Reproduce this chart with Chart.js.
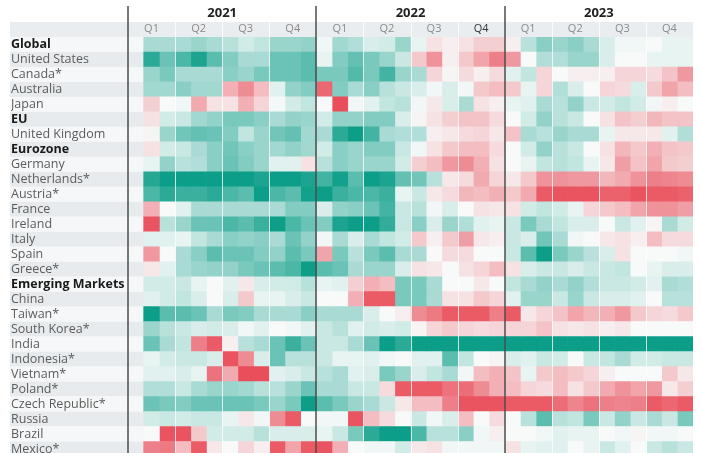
<!DOCTYPE html>
<html>
<head>
<meta charset="utf-8">
<script src="https://cdn.jsdelivr.net/npm/chart.js@4.4.0/dist/chart.umd.min.js"></script>
<style>
  html, body { margin: 0; padding: 0; background: #ffffff; overflow: hidden; }
  #wrap { width: 701px; height: 464px; }
</style>
</head>
<body>
<div id="wrap"><canvas id="heat" width="701" height="464"></canvas></div>
<script>
// Row labels (bold ones are aggregates)
const rows = [
    'Global', 'United States', 'Canada*', 'Australia', 'Japan', 'EU', 'United Kingdom',
    'Eurozone', 'Germany', 'Netherlands*', 'Austria*', 'France', 'Ireland', 'Italy',
    'Spain', 'Greece*', 'Emerging Markets', 'China', 'Taiwan*', 'South Korea*', 'India',
    'Indonesia*', 'Vietnam*', 'Poland*', 'Czech Republic*', 'Russia', 'Brazil', 'Mexico*'
];
const boldRows = ['Global', 'EU', 'Eurozone', 'Emerging Markets'];
const years = ['2021', '2022', '2023'];
const quarters = ['Q1', 'Q2', 'Q3', 'Q4'];

// Monthly readings per row, Jan..Dec (positive = teal, negative = red)
const v2021 = [
    [null, 1, 1, 1, 1.2, 1, 0.8, 0.5, 0.7, 1.2, 1.2, 1.3],
    [null, 2.6, 1.8, 2.2, 2.8, 2.0, 1.5, 1.0, 1.0, 1.8, 1.8, 2.0],
    [null, 1.2, 1.6, 1.0, 1.0, 1.0, 1.4, 1.2, 1.6, 1.8, 1.8, 2.0],
    [null, 1.1, 1.1, 1.4, 1.1, 1.1, -1.2, -1.8, -1.0, 0.3, 1.3, 1.5],
    [null, -0.7, 0, 0.1, -1.3, -0.4, -0.4, -1.2, -0.6, 0.05, 0.5, 0.7],
    [null, -0.4, 0.5, 0.6, 1.1, 1.3, 1.6, 1.6, 1.4, 1.0, 1.3, 1.2],
    [null, -0.1, 1.2, 1.7, 1.9, 1.8, 1.5, 0.7, 1.2, 1.7, 1.9, 1.1],
    [null, -0.4, 0.5, 0.6, 1.0, 1.4, 1.7, 1.4, 1.2, 1.1, 1.3, 1.1],
    [null, 0.2, 1.3, 0.8, 0.9, 1.4, 1.8, 1.5, 1.2, 0.3, 0.3, -0.4],
    [null, 2.7, 3, 3, 3, 3, 3, 3, 2.8, 3, 3, 2.8],
    [null, 2.2, 2.6, 2.4, 2.4, 2.6, 2.2, 2.0, 3.0, 2.2, 2.0, 2.9],
    [null, -1.2, 0, 0.3, 1.0, 1.0, 1.0, 1.0, 1.0, 1.0, 1.5, 1.5],
    [null, -2.7, 0.8, 1.2, 1.8, 1.8, 2.2, 2.0, 2.4, 3.0, 2.2, 1.8],
    [null, 0.3, 0.3, 0.2, 0.7, 1.0, 1.4, 1.3, 1.4, 1.0, 1.8, 1.3],
    [null, -1.6, 0, 1.0, 1.4, 2.0, 1.8, 1.8, 1.5, 1.3, 2.0, 1.6],
    [null, -0.3, 0.3, 1.0, 1.2, 1.3, 1.3, 1.6, 1.8, 2.0, 2.2, 3.0],
    [null, 0.5, 0.5, 0.6, 0.2, 0, 0.3, -0.3, 0.4, 0.5, 0.5, 0.8],
    [null, 0.3, 0.5, 0.7, 0.4, 0, 0.4, -0.8, 0.2, 0.2, 0.4, 0.6],
    [null, 3.0, 2.0, 2.0, 1.8, 1.0, 1.6, 1.5, 1.0, 1.0, 1.0, 1.4],
    [null, 1.2, 0.8, 0.6, 0.4, 0.5, 0.4, 0.1, 0.3, 0, 0.1, 0.3],
    [null, 1.8, 1.0, 0.7, -2.0, -2.6, -0.2, 0.8, 1.0, 1.8, 2.4, 1.8],
    [null, 0.2, 0.5, 0.6, 0.6, 0.4, -2.7, -1.8, 0.4, 1.8, 0.8, 0.8],
    [null, 0.3, 0.3, 0.4, 0.2, -2.2, -1.3, -2.8, -2.8, 0.3, 0.4, 0.6],
    [null, 0.9, 0.9, 0.6, 1.0, 1.2, 1.2, 1.1, 0.8, 0.8, 1.2, 1.8],
    [null, 1.8, 1.6, 1.5, 1.8, 1.8, 1.8, 1.8, 1.6, 1.2, 1.6, 3.0],
    [null, 0.5, 0.6, 0.5, 0.6, 0.6, 0.2, -0.3, 0.1, -1.8, -2.6, 0],
    [null, 0, -2.7, -2.7, -0.8, 0.5, 0.5, 0.5, 0.8, 0.4, 0.4, 0.4],
    [null, -2.0, -2.1, -1.0, -2.6, -0.3, 0, -0.6, -0.2, -2.6, -1.4, -2.6]
];
const v2022 = [
    [0.1, 1.1, 0.9, 0.4, 0.5, 1.2, 0.2, -0.4, -0.2, -0.4, -0.7, -0.7],
    [0.2, 1.5, 1.9, 1.6, 1.2, 0.6, -0.8, -1.7, -0.2, -0.8, -1.4, -2.0],
    [1.6, 1.6, 2.1, 1.6, 2.3, 1.2, 1.0, -0.6, -0.1, -0.5, -0.2, -0.5],
    [-2.4, 1.5, 1.0, 1.4, 0.8, 0.6, 0.4, 0.1, 0.4, 0.1, -0.8, -1.0],
    [0, -2.8, 0.1, 0.3, 0.7, 0.8, 0.1, -0.3, 0.4, 1.0, -0.4, -0.2],
    [0.5, 1.3, 1.3, 1.5, 1.5, 0.4, -0.1, -0.4, -0.7, -0.9, -0.9, -0.5],
    [1.0, 2.6, 3.0, 2.3, 1.0, 0.9, 0.9, -0.2, -0.3, -0.5, -0.6, -0.3],
    [0.5, 1.4, 1.2, 1.5, 1.5, 0.6, 0.1, -0.4, -0.8, -1.0, -1.0, -0.5],
    [0.8, 1.4, 1.2, 1.2, 1.2, 0.5, -0.7, -1.0, -1.6, -1.8, -1.2, -0.4],
    [2.3, 2.9, 2.0, 3.0, 2.8, 1.9, 1.7, 0.8, -0.3, -0.5, -1.3, -0.6],
    [3.0, 2.4, 2.2, 2.2, 2.4, 0.2, 0.6, -0.3, -0.5, -1.1, -1.0, -1.2],
    [0.4, 1.3, 1.4, 1.8, 2.3, 0.6, 0.8, 0.1, 0.4, 0, -0.4, -0.3],
    [1.5, 2.8, 3.0, 3.0, 2.5, 0.6, 1.4, 0.4, 1.2, 0.9, 0.3, 0.2],
    [0.1, 1.0, 0.4, 1.0, 0.7, 0.5, -0.8, -0.2, -0.8, -1.5, -0.3, -0.2],
    [-1.4, 1.6, 0.8, 1.6, 2.0, 1.0, 1.0, 0, -0.5, -0.5, 0, 0],
    [2.0, 1.8, 1.0, 1.2, 1.2, 0.4, -0.4, -0.3, 0, -0.4, -0.6, -1.0],
    [0.2, 0.3, -0.7, -1.2, -1.0, 1.6, 1.6, 1.0, 0, 0, -0.3, 0],
    [0, 0, -1.2, -2.6, -2.6, 1.6, 1.6, 1.0, -0.4, -0.4, -0.8, -0.6],
    [1.0, 1.0, 1.0, 0.4, 0, -0.2, -1.8, -2.1, -2.6, -2.6, -2.6, -2.0],
    [0.6, 0.8, 0.3, 0.5, 0.4, 0.5, -0.1, -0.6, -0.8, -0.6, -0.5, -0.6],
    [0.6, 0.6, 1.0, 1.8, 3.0, 2.6, 3.0, 3.0, 3.0, 3.0, 3.0, 3.0],
    [0.6, 0.2, 0.2, 0.3, 0.1, 0, 0.3, 0.3, 2.0, 0.7, 0, -0.1],
    [0.8, 1.0, 0.3, 0.4, 1.6, 1.2, 0.4, 0.7, 1.0, 0.1, -1.0, -1.2],
    [1.0, 1.0, 0.6, 0.6, -0.5, -2.6, -2.6, -2.6, -2.2, -2.3, -1.8, -1.2],
    [2.0, 1.6, 1.2, 1.0, 0.6, -0.3, -1.0, -1.0, -2.0, -2.7, -2.7, -2.7],
    [0.1, 0.1, -2.7, -1.0, -0.5, 0, 0.6, 0.1, 0.4, -1.0, 0, -0.5],
    [0.2, 0.6, 1.6, 2.6, 3.0, 3.0, 2.2, 0.8, 0.8, 1.4, 0.1, -0.2],
    [-2.7, -1.2, 0, 0.1, 0.1, 0.5, -0.3, -0.4, 0.1, 0.1, 0.1, 0.1]
];
const v2023 = [
    [-0.2, 0.8, 1.4, 1.2, 1.4, 1.0, 0.4, 0.1, 0.1, 0, 0.2, 0.2],
    [-1.6, 0, 0.9, 0.9, 1.2, 1.2, 0.4, 0, 0, 0.2, 0.2, 0.2],
    [0.3, 0.7, -0.6, 0, -0.2, -0.2, -0.2, -0.6, -0.6, -0.5, -0.9, -1.6],
    [-0.8, 0.2, -0.6, 0.9, 0.4, 0, -0.6, -0.5, 0.4, -0.8, -1.4, -1.0],
    [0.2, 0.3, 1.0, 0.8, 1.3, 0.6, 0.5, 0.7, 0.5, 0.1, -0.2, 0],
    [0, 0.5, 1.3, 0.8, 0.6, 0, -0.4, -0.9, -0.7, -1.1, -0.9, -0.9],
    [-0.9, 1.0, 0.8, 1.2, 1.0, 1.0, 0.2, -0.3, -0.3, -0.3, 0.3, 0.9],
    [0, 0.5, 1.3, 0.8, 0.6, 0, -0.4, -1.1, -0.8, -1.2, -0.9, -0.8],
    [0, 0.2, 0.7, 0.8, 0.7, 0.2, -0.3, -1.5, -0.9, -1.4, -0.8, -0.7],
    [-0.3, -0.8, -1.7, -1.7, -1.6, -1.6, -1.1, -1.3, -1.7, -2.0, -1.9, -1.8],
    [-0.8, -1.3, -2.6, -2.7, -2.7, -2.7, -2.5, -2.5, -2.7, -2.6, -2.6, -2.5],
    [-0.4, 0.5, 0.7, 0.5, 0.2, -0.6, -0.8, -1.0, -1.4, -1.7, -1.7, -1.5],
    [0.6, 1.6, 1.0, 0.7, 0.4, 0.4, 0, 0.6, 0.3, -0.1, 1.0, 0.5],
    [0.6, 0.4, 1.7, 1.0, 0.1, 0, -0.3, -0.4, -0.2, -1.0, -0.5, -0.5],
    [0.6, 2.0, 3.0, 1.6, 1.2, 0.8, 0.4, -0.4, 0, 0, 0, 0.1],
    [-0.4, 0.4, 0.6, 0.6, 0.4, 0.6, 0.6, 0.7, 0, 0.2, 0.4, 0.4],
    [0.7, 1.0, 1.3, 1.0, 1.3, 0.9, 0.6, 0.6, 0.5, 0.3, 1.0, 0.9],
    [0.3, 1.2, 1.2, 0.6, 1.2, 0.6, 0.4, 0.4, 0.3, 0, 0.8, 0.8],
    [-2.6, -0.3, -0.6, -0.9, -1.4, -1.1, -1.2, -1.6, -0.8, -0.6, -0.5, -0.8],
    [-0.6, -0.6, -0.9, -0.4, -0.3, -0.4, -0.2, -0.3, 0, 0, 0, 0],
    [3.0, 3.0, 3.0, 3.0, 3.0, 3.0, 3.0, 3.0, 3.0, 3.0, 3.0, 3.0],
    [0.4, 0.3, 0.6, 0.5, 0, 0.6, 0.7, 1.0, 0.5, 0.5, 0.6, 0.6],
    [-0.9, 0.2, -0.8, -1.0, -0.8, -0.6, -0.2, 0, 0, 0, -0.8, -0.3],
    [-1.0, -0.6, -0.5, -1.0, -0.4, -0.8, -1.3, -1.7, -1.4, -1.6, -0.3, -0.7],
    [-2.6, -2.6, -2.6, -2.3, -1.9, -2.2, -2.0, -1.9, -2.0, -2.6, -2.4, -2.6],
    [0, 0.8, 2.0, 0.8, 0.7, 1.6, 0.6, 1.3, 0.6, 1.0, 0.6, 1.6],
    [0, 0, 0.1, 0.3, 0.2, 0.2, 0, 0.1, -0.1, 0.1, 0.1, 0],
    [-0.4, 0.2, 0.3, 0.3, 0, 0.2, 0.6, 0.3, 0, 0.6, 0.8, 0.6]
];

const TEAL = [12, 158, 136];
const RED = [232, 66, 79];
const PALE = [248, 250, 250];

// Map a reading to the diverging teal/red scale
function cellColor(v) {
    const t = Math.min(Math.abs(v) / 3, 1);
    const end = v >= 0 ? TEAL : RED;
    const c = PALE.map((p, i) => Math.round(p + (end[i] - p) * t));
    return `rgb(${c[0]},${c[1]},${c[2]})`;
}

// One dataset per month; each bar spans [month, month + 1] on the x scale
const allYears = [v2021, v2022, v2023];
const datasets = [];
allYears.forEach((yearRows, y) => {
    for (let m = 0; m < 12; m++) {
        const idx = y * 12 + m;
        datasets.push({
            label: years[y] + '-' + (m + 1),
            data: yearRows.map(r => r[m] === null ? null : [idx, idx + 1]),
            backgroundColor: yearRows.map(r => r[m] === null ? 'rgba(0,0,0,0)' : cellColor(r[m]))
        });
    }
});

const FONT = "'Open Sans', 'Noto Sans', sans-serif";

// Row stripes, quarter header band, separators and year rules
const framePlugin = {
    id: 'frame',
    beforeDraw(chart) {
        const {ctx, chartArea, scales: {x, y}} = chart;
        const half = y.getPixelForValue(1) - y.getPixelForValue(0);
        ctx.save();
        ctx.fillStyle = '#e9edf0';
        ctx.fillRect(10, chartArea.top - 15, chartArea.right - 10, 15);
        rows.forEach((r, i) => {
            const cy = y.getPixelForValue(i);
            ctx.fillStyle = i % 2 ? '#e7ebee' : '#f5f7f8';
            ctx.fillRect(10, cy - half / 2, chartArea.right - 10, half);
        });
        ctx.restore();
    },
    afterDatasetsDraw(chart) {
        const {ctx, chartArea, scales: {x}} = chart;
        ctx.save();
        ctx.strokeStyle = 'rgba(255,255,255,0.75)';
        ctx.lineWidth = 1;
        for (let q = 1; q < 12; q++) {
            if (q % 4 === 0) continue;
            const px = Math.round(x.getPixelForValue(q * 3)) + 0.5;
            ctx.beginPath();
            ctx.moveTo(px, chartArea.top - 15);
            ctx.lineTo(px, chartArea.bottom);
            ctx.stroke();
        }
        ctx.strokeStyle = '#4d4d4d';
        ctx.lineWidth = 1.5;
        for (let k = 0; k < 3; k++) {
            const px = Math.round(x.getPixelForValue(k * 12));
            ctx.beginPath();
            ctx.moveTo(px, 6);
            ctx.lineTo(px, chartArea.bottom);
            ctx.stroke();
        }
        ctx.restore();
    }
};

const ctx = document.getElementById('heat').getContext('2d');
new Chart(ctx, {
    type: 'bar',
    data: { labels: rows, datasets: datasets },
    options: {
        indexAxis: 'y',
        responsive: false,
        animation: false,
        layout: { padding: { left: 11, right: 8, top: 0, bottom: 0 } },
        datasets: {
            bar: {
                grouped: false,
                categoryPercentage: 1,
                barPercentage: 1,
                borderWidth: 0
            }
        },
        plugins: {
            legend: { display: false },
            tooltip: { enabled: false }
        },
        scales: {
            y: {
                type: 'category',
                offset: true,
                grid: { display: false, drawTicks: false },
                border: { display: false },
                afterFit(scale) { scale.width = 117; },
                ticks: {
                    crossAlign: 'far',
                    padding: 0,
                    autoSkip: false,
                    color: (c) => boldRows.includes(rows[c.index]) ? '#1a1a1a' : '#5c5c5c',
                    font: (c) => ({
                        family: FONT,
                        size: 12.5,
                        weight: boldRows.includes(rows[c.index]) ? 'bold' : 'normal'
                    })
                }
            },
            x: {
                type: 'linear',
                position: 'top',
                min: 0,
                max: 36,
                weight: 0,
                grid: { display: false, drawTicks: false },
                border: { display: false },
                afterFit(scale) { scale.height = 16; },
                afterBuildTicks(scale) {
                    scale.ticks = [];
                    for (let q = 0; q < 12; q++) scale.ticks.push({ value: q * 3 + 1.5 });
                },
                ticks: {
                    autoSkip: false,
                    maxRotation: 0,
                    padding: 2,
                    color: (c) => c.index === 7 ? '#333333' : '#8a8a8a',
                    font: { family: FONT, size: 11 },
                    callback: (v, i) => quarters[i % 4]
                }
            },
            x2: {
                type: 'linear',
                position: 'top',
                min: 0,
                max: 36,
                weight: 1,
                grid: { display: false, drawTicks: false },
                border: { display: false },
                afterFit(scale) { scale.height = 21; },
                afterBuildTicks(scale) {
                    scale.ticks = years.map((yr, i) => ({ value: i * 12 + 6 }));
                },
                ticks: {
                    autoSkip: false,
                    maxRotation: 0,
                    padding: 0,
                    color: '#222222',
                    font: { family: FONT, size: 13, weight: 'bold' },
                    callback: (v, i) => years[i]
                }
            }
        }
    },
    plugins: [framePlugin]
});
</script>
</body>
</html>
